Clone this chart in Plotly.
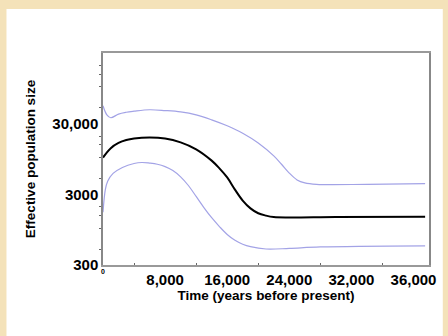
import plotly.graph_objects as go

# Time (years before present) and effective population size
t_median = [0, 1000, 2000, 3000, 4000, 6000, 8000, 10000, 12000, 14000, 15000, 16000, 17000, 18000, 19000, 20000, 21000, 22000, 24000, 30000, 41500]
n_median = [9950, 13500, 16000, 17600, 18500, 19100, 18500, 16300, 13000, 9000, 7000, 5200, 3500, 2450, 1900, 1620, 1500, 1430, 1410, 1430, 1440]

t_upper = [0, 500, 1000, 2000, 3000, 4000, 6000, 8000, 10000, 12000, 14000, 16000, 18000, 20000, 22000, 23000, 24000, 25000, 26000, 27500, 34000, 41500]
n_upper = [53800, 40000, 36400, 41000, 43500, 45000, 47200, 46000, 44000, 40000, 34000, 28000, 22000, 16000, 10500, 8000, 6000, 4800, 4350, 4150, 4150, 4250]

t_lower = [0, 300, 600, 1300, 2500, 4000, 5000, 6000, 7000, 8000, 9000, 10000, 11000, 12000, 13000, 14000, 15000, 16000, 17000, 18000, 19000, 21000, 24000, 28000, 41500]
n_lower = [1670, 3500, 4600, 5930, 7200, 8200, 8470, 8300, 8000, 7400, 6500, 5300, 4000, 2800, 1950, 1400, 1050, 810, 670, 590, 545, 505, 515, 540, 560]

x_tickvals = [0, 8000, 16000, 24000, 32000, 40000]
x_ticktext = ["", "8,000", "16,000", "24,000", "32,000", "36,000"]
y_tickvals = [300, 3000, 30000]
y_ticktext = ["300", "3000", "30,000"]

FONT = "Liberation Sans, Arial, sans-serif"
BLUE = "#a3a3e6"

fig = go.Figure()
fig.add_trace(go.Scatter(x=t_upper, y=n_upper, mode="lines", line=dict(color=BLUE, width=1.2, shape="spline", smoothing=1), showlegend=False))
fig.add_trace(go.Scatter(x=t_lower, y=n_lower, mode="lines", line=dict(color=BLUE, width=1.2, shape="spline", smoothing=1), showlegend=False))
fig.add_trace(go.Scatter(x=t_median, y=n_median, mode="lines", line=dict(color="black", width=2, shape="spline", smoothing=1), showlegend=False))

L, R, T, B = 103, 14, 53, 71
W, H = 448, 336
pw, ph = W - L - R, H - T - B

fig.add_shape(type="rect", xref="paper", yref="paper",
              x0=(5 - L) / pw, x1=(W - L) / pw,
              y0=((H - B) - H) / ph, y1=((H - B) - 9) / ph,
              fillcolor="white", line=dict(width=0), layer="below")

fig.add_annotation(x=0, y=0, xref="x", yref="paper", text="0", showarrow=False,
                   yanchor="top", xanchor="center", yshift=-1,
                   font=dict(size=7, family=FONT, color="black"))

fig.update_layout(
    width=W, height=H,
    margin=dict(l=L, r=R, t=T, b=B),
    paper_bgcolor="#f4e2b9",
    plot_bgcolor="rgba(0,0,0,0)",
    font=dict(family=FONT, color="black", size=15, weight="bold"),
    xaxis=dict(
        range=[0, 42000], tickvals=x_tickvals, ticktext=x_ticktext,
        showgrid=False, zeroline=False,
        showline=True, linecolor="#999999", linewidth=1.5, mirror=True,
        ticks="", tickfont=dict(size=15, family=FONT, weight="bold"),
        minor=dict(tickvals=[4000, 12000, 20000, 28000, 36000], ticks="inside", ticklen=2, tickcolor="#666666"),
        title=dict(text="Time (years before present)", font=dict(size=13.5, family=FONT, weight="bold"), standoff=4),
    ),
    yaxis=dict(
        type="log", range=[2.4771, 5.4771], tickvals=y_tickvals, ticktext=y_ticktext,
        showgrid=False, zeroline=False,
        showline=True, linecolor="#888888", linewidth=1.5, mirror=True,
        ticks="", tickfont=dict(size=15, family=FONT, weight="bold"),
        minor=dict(tickvals=[500, 1000, 1500, 2000, 5000, 10000, 15000, 20000, 50000, 100000, 150000, 200000],
                   ticks="outside", ticklen=2, tickcolor="#666666"),
        title=dict(text="Effective population size", font=dict(size=13.5, family=FONT, weight="bold"), standoff=14),
    ),
)

fig.write_html("out.html")
